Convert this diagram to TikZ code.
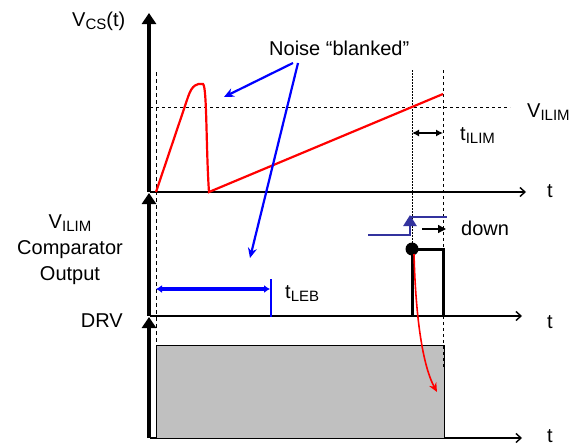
\documentclass[tikz,border=0pt]{standalone}
\usepackage{fontspec}
\setmainfont{Liberation Sans}
\usetikzlibrary{arrows.meta}
\definecolor{sig}{HTML}{FF0000}
\definecolor{note}{HTML}{0000FF}
\definecolor{cmp}{HTML}{33339E}
\definecolor{shade}{HTML}{C0C0C0}
\newcommand{\lo}[1]{\raisebox{-3.5pt}{\fontsize{15}{15}\selectfont #1}}
\tikzset{txt/.style={font=\fontsize{20}{24}\selectfont,inner sep=0pt},
  vax/.style={line width=3.8pt,-{Triangle[width=14pt,length=11pt]}},
  hax/.style={line width=1.5pt,-{Straight Barb[width=9pt,length=5pt,line width=1.4pt]}},
  mark1/.style={line width=.9pt,dash pattern=on 4pt off 3pt},
  mark2/.style={line width=.9pt,dash pattern=on 1.5pt off 1.5pt},
  wave/.style={line width=2.2pt,draw=sig},
  pointer/.style={line width=2.2pt,draw=note,-{Stealth[length=10pt,width=9pt]}},
  pulse/.style={line width=3pt,draw=black}}

\begin{document}
\begin{tikzpicture}[x=1pt,y=-1pt]
\useasboundingbox (0,0) rectangle (578,447);
% axes
\coordinate (o1) at (150,192);\coordinate (o2) at (150,316);\coordinate (o3) at (150,438);
\draw[hax] (o1)--(526,192);
\draw[hax] (o2)--(522,316);
\draw[hax] (o3)--(522,438);
\draw[vax] (149,192)--(149,13);
\draw[vax] (149,316)--(149,193);
\draw[vax] (149,438)--(149,317);
% DRV pulse
\draw[line width=1pt,fill=shade] (156,345) rectangle (444,438);
% marker lines
\draw[mark1] (156,72)--(156,345);
\draw[mark1,line width=.8pt,dash pattern=on 3pt off 3pt] (150,107)--(510,107);
\draw[mark2] (412,70)--(412,316);
\draw[mark1,dash pattern=on 3pt off 3pt] (443,70)--(443,368);
% current sense waveform
\draw[wave] (156,192)--(188,97) .. controls (192,85) and (197,83) .. (203,84)
  .. controls (207,86) and (206,150) .. (209,192)--(443,94);
% labels
\node[txt,anchor=base west] (vcs) at (72,26) {V\lo{CS}(t)};
\node[txt,anchor=base west] (noise) at (269,55) {Noise “blanked”};
\node[txt,anchor=base west] (vilim) at (527,117) {V\lo{ILIM}};
\node[txt,anchor=base west] (tilim) at (460,140) {t\lo{ILIM}};
\node[txt,anchor=base west] (t1) at (547,197) {t};
\node[txt,anchor=base west] (t2) at (547,328) {t};
\node[txt,anchor=base west] (t3) at (547,442) {t};
\node[txt,align=center,anchor=base] (cmpout) at (70,280) {V\lo{ILIM}\\[2pt]Comparator\\[2pt]Output};
\node[txt,anchor=base east] (drv) at (123,327) {DRV};
\node[txt,anchor=base west] (down) at (461,235) {down};
\node[txt,anchor=base west] (tleb) at (285,298) {t\lo{LEB}};
% noise pointers
\coordinate (n1) at (293,63);\coordinate (n2) at (298,63);
\coordinate (spike) at (224,97);\coordinate (cmpnote) at (250,258);
\draw[pointer] (n1)--(spike);
\draw[pointer] (n2)--(cmpnote);
% blanking time
\coordinate (leba) at (156,289);\coordinate (lebb) at (270,289);
\draw[line width=3.4pt,draw=note,{Latex[length=6pt,width=8pt]}-{Latex[length=6pt,width=8pt]}] (leba)--(lebb);
\draw[line width=2pt,draw=note] (271,279)--(271,317);
% ILIM delay
\coordinate (ia) at (412,133);\coordinate (ib) at (443,133);
\draw[line width=1.2pt,{Latex[length=7pt,width=7pt]}-{Latex[length=7pt,width=7pt]}] (ia)--(ib);
% comparator step
\draw[line width=2.4pt,draw=cmp] (368,235)-|(410,226);
\draw[line width=2.4pt,draw=cmp,-{Triangle[length=11pt,width=13pt]}] (410,228)--(410,215);
\draw[line width=2.4pt,draw=cmp] (410,217)--(447,217);
\coordinate (da) at (422,229);\coordinate (db) at (446,229);
\draw[line width=1.4pt,-{Triangle[length=8pt,width=8pt]}] (da)--(db);
% output pulse
\draw[pulse] (412,316)--(412,249)--(443,249)--(443,316);
\node[circle,fill=black,inner sep=0pt,minimum size=13pt] (trip) at (412,249) {};
\coordinate (drvoff) at (437,392);
\draw[line width=1.6pt,draw=sig,-{Stealth[length=9pt,width=8pt]}] (414,254) .. controls (416,330) and (425,370) .. (drvoff);
\end{tikzpicture}
\end{document}
